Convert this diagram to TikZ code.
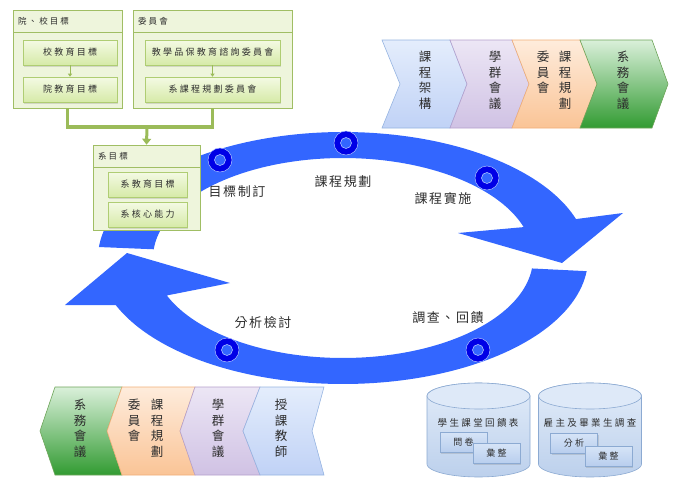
\documentclass[tikz,border=0pt]{standalone}
\usepackage{fontspec}
\setmainfont{Noto Sans CJK TC}
\newfontfamily\cjk{Noto Sans CJK TC}
\newfontfamily\cjks[LetterSpace=25]{Noto Sans CJK TC}
\newfontfamily\cjkm[LetterSpace=12]{Noto Sans CJK TC}
\usetikzlibrary{shadows,arrows.meta}
\definecolor{band}{RGB}{51,102,255}
\definecolor{ringc}{RGB}{0,0,230}
\definecolor{ringedge}{RGB}{170,190,255}
\definecolor{gborder}{RGB}{160,190,100}
\definecolor{gouter}{RGB}{238,245,220}
\definecolor{gintop}{RGB}{244,250,228}
\definecolor{ginbot}{RGB}{214,234,168}
\definecolor{ginborder}{RGB}{175,205,115}
\definecolor{gline}{RGB}{155,187,89}
\definecolor{txt}{RGB}{45,45,45}
\definecolor{cbluet}{RGB}{228,237,252}
\definecolor{cblueb}{RGB}{192,210,246}
\definecolor{cbluee}{RGB}{150,180,225}
\definecolor{cpurt}{RGB}{236,230,245}
\definecolor{cpurb}{RGB}{208,194,228}
\definecolor{cpure}{RGB}{180,160,205}
\definecolor{coret}{RGB}{254,236,220}
\definecolor{coreb}{RGB}{250,196,150}
\definecolor{coree}{RGB}{240,175,120}
\definecolor{cgrnt}{RGB}{218,240,218}
\definecolor{cgrnb}{RGB}{50,155,50}
\definecolor{cgrne}{RGB}{110,165,90}
\definecolor{cyltop}{RGB}{226,236,249}
\definecolor{cylbot}{RGB}{188,208,236}
\definecolor{cylcap}{RGB}{222,233,248}
\definecolor{cylborder}{RGB}{140,170,210}
\definecolor{sbtop}{RGB}{214,228,247}
\definecolor{sbbot}{RGB}{184,206,238}
\begin{document}
\begin{tikzpicture}[x=1pt,y=-1pt,
  gbox/.style={draw=gborder, fill=gouter, line width=0.6pt, rectangle, inner sep=0pt},
  ghead/.style={draw=gborder, fill=gouter, line width=0.6pt, rectangle, inner ysep=0pt, inner xsep=5pt,
     minimum height=22pt, align=left, font=\cjks\fontsize{8.5}{10}\selectfont, text=txt},
  gin/.style={draw=ginborder, top color=gintop, bottom color=ginbot, line width=0.6pt, rectangle,
     inner sep=0pt, minimum height=25pt, font=\cjks\fontsize{9}{10}\selectfont, text=txt,
     drop shadow={shadow xshift=1pt, shadow yshift=-1.5pt, opacity=0.25}},
  gconn/.style={draw=gline, line width=3.5pt},
  smallarr/.style={draw=gline, line width=1pt, -{Triangle[width=4pt,length=3pt]}},
  ring/.style={circle, fill=ringc, draw=ringedge, line width=0.5pt, minimum size=24pt, inner sep=0pt},
  ringhole/.style={circle, fill=band, draw=ringedge, line width=0.6pt, minimum size=11pt, inner sep=0pt},
  arclabel/.style={font=\cjkm\fontsize{13}{15}\selectfont, text=txt},
  vtxt/.style={align=center, font=\cjk\fontsize{12.5}{15.5}\selectfont, text=txt, inner sep=0pt},
  cyltxt/.style={font=\cjks\fontsize{9.5}{11}\selectfont, text=txt},
  sbox/.style={draw=cylborder, top color=sbtop, bottom color=sbbot, line width=0.6pt, rectangle,
     inner sep=0pt, minimum width=47pt, minimum height=20pt, font=\cjks\fontsize{9}{10}\selectfont, text=txt,
     drop shadow={shadow xshift=1pt, shadow yshift=-1.5pt, opacity=0.25}}
]
\useasboundingbox (0,0) rectangle (675,479);

% ---------- big circular arrows ----------
\fill[band] plot[domain=185:342, samples=90] ({343+245*cos(\x)},{258+126*sin(\x)})
  -- (623,213) -- (562,263) -- (458,233)
  -- plot[domain=342:185, samples=90] ({343+190*cos(\x)},{258+100*sin(\x)}) -- cycle;
\fill[band] plot[domain=6:158, samples=90] ({343+245*cos(\x)},{258+126*sin(\x)})
  -- (65,305) -- (127,253) -- (230,283)
  -- plot[domain=158:6, samples=90] ({343+190*cos(\x)},{258+100*sin(\x)}) -- cycle;

% rings
\foreach \p/\nm in {{(220,160)}/r1,{(346,143)}/r2,{(487,178)}/r3,{(227,350)}/r4,{(478,350)}/r5}{
  \node[ring] (\nm) at \p {};
  \node[ringhole] (\nm h) at \p {};
}

% arc labels
\node[arclabel] (l1) at (237,192) {目標制訂};
\node[arclabel] (l2) at (343,182) {課程規劃};
\node[arclabel] (l3) at (443,199) {課程實施};
\node[arclabel] (l4) at (448,318) {調查、回饋};
\node[arclabel] (l5) at (263,323) {分析檢討};

% ---------- top-left green boxes ----------
\node[gbox, minimum width=109pt, minimum height=98pt] (A) at (67.5,59) {};
\node[ghead, text width=99pt] (Ah) at (67.5,21) {院、校目標};
\node[gin, minimum width=94pt] (A1) at (70,52.5) {校教育目標};
\node[gin, minimum width=94pt] (A2) at (70,89.5) {院教育目標};
\draw[smallarr] (A1.south) -- (A2.north);

\node[gbox, minimum width=159pt, minimum height=98pt] (B) at (212.5,59) {};
\node[ghead, text width=149pt] (Bh) at (212.5,21) {委員會};
\node[gin, minimum width=135pt] (B1) at (212.5,52.5) {教學品保教育諮詢委員會};
\node[gin, minimum width=135pt] (B2) at (212.5,89.5) {系課程規劃委員會};
\draw[smallarr] (B1.south) -- (B2.north);

\node[gbox, minimum width=107pt, minimum height=85pt] (C) at (146.5,187.5) {};
\node[ghead, text width=97pt] (Ch) at (146.5,156) {系目標};
\node[gin, minimum width=79pt] (C1) at (147.5,184.5) {系教育目標};
\node[gin, minimum width=79pt] (C2) at (147.5,214.5) {系核心能力};

\coordinate (J) at (147,127);
\draw[gconn] (A.south) -- (A.south |- J) -- (B.south |- J) -- (B.south);
\draw[gconn, line width=3pt, -{Triangle[width=9pt,length=6pt]}] (J) -- (C.north);

% ---------- top chevrons ----------
\shade[top color=cbluet, bottom color=cblueb, draw=cbluee, line width=0.6pt]
  (382,40) -- (450,40) -- (467,84) -- (450,128) -- (382,128) -- (400,84) -- cycle;
\shade[top color=cpurt, bottom color=cpurb, draw=cpure, line width=0.6pt]
  (450,40) -- (512,40) -- (529,84) -- (512,128) -- (450,128) -- (467,84) -- cycle;
\shade[top color=coret, bottom color=coreb, draw=coree, line width=0.6pt]
  (512,40) -- (580,40) -- (597,84) -- (580,128) -- (512,128) -- (529,84) -- cycle;
\shade[top color=cgrnt, bottom color=cgrnb, draw=cgrne, line width=0.6pt]
  (580,40) -- (652,40) -- (668,84) -- (652,128) -- (580,128) -- (597,84) -- cycle;
\node[vtxt, anchor=north] (t1) at (425,51) {課\\程\\架\\構};
\node[vtxt, anchor=north] (t2) at (495,51) {學\\群\\會\\議};
\node[vtxt, anchor=north] (t3a) at (565,51) {課\\程\\規\\劃};
\node[vtxt, anchor=north] (t3b) at (543,51) {委\\員\\會};
\node[vtxt, anchor=north] (t4) at (623,51) {系\\務\\會\\議};

% ---------- bottom chevrons ----------
\shade[top color=cgrnt, bottom color=cgrnb, draw=cgrne, line width=0.6pt]
  (55,387) -- (122,387) -- (107,431) -- (122,475) -- (55,475) -- (40,431) -- cycle;
\shade[top color=coret, bottom color=coreb, draw=coree, line width=0.6pt]
  (122,387) -- (195,387) -- (180,431) -- (195,475) -- (122,475) -- (107,431) -- cycle;
\shade[top color=cpurt, bottom color=cpurb, draw=cpure, line width=0.6pt]
  (195,387) -- (260,387) -- (243,431) -- (260,475) -- (195,475) -- (180,431) -- cycle;
\shade[top color=cbluet, bottom color=cblueb, draw=cbluee, line width=0.6pt]
  (260,387) -- (324,387) -- (312,431) -- (324,475) -- (260,475) -- (243,431) -- cycle;
\node[vtxt, anchor=north] (b1) at (80,399) {系\\務\\會\\議};
\node[vtxt, anchor=north] (b2a) at (157,399) {課\\程\\規\\劃};
\node[vtxt, anchor=north] (b2b) at (134,399) {委\\員\\會};
\node[vtxt, anchor=north] (b3) at (218,399) {學\\群\\會\\議};
\node[vtxt, anchor=north] (b4) at (281,399) {授\\課\\教\\師};

% ---------- cylinders ----------
\foreach \cx in {478.5,590}{
  \shade[top color=cyltop, bottom color=cylbot, draw=cylborder, line width=0.6pt]
    (\cx-51.5,396) -- plot[domain=180:0, samples=40] ({\cx+51.5*cos(\x)},{464+13*sin(\x)})
    -- plot[domain=360:180, samples=40] ({\cx+51.5*cos(\x)},{396+13*sin(\x)}) -- cycle;
  \fill[cylcap, draw=cylborder, line width=0.6pt] (\cx,396) ellipse[x radius=51.5pt, y radius=13pt];
}
\node[cyltxt] (d1) at (478,423) {學生課堂回饋表};
\node[sbox] (d1a) at (463.5,442) {問卷};
\node[sbox] (d1b) at (496.5,453.5) {彙整};
\node[cyltxt] (d2) at (590,423) {雇主及畢業生調查};
\node[sbox] (d2a) at (574,443) {分析};
\node[sbox] (d2b) at (608.5,456) {彙整};
\end{tikzpicture}
\end{document}
